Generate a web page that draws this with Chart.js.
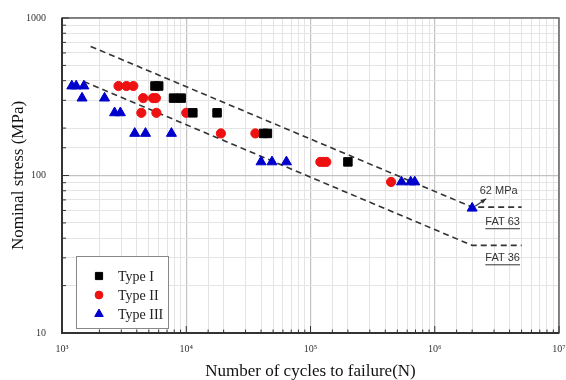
<!DOCTYPE html>
<html>
<head>
<meta charset="utf-8">
<script src="https://cdn.jsdelivr.net/npm/chart.js@4.4.1/dist/chart.umd.min.js"></script>
<style>
  body { margin: 0; background: #fff; }
  canvas { display: block; }
</style>
</head>
<body>
<canvas id="sn-chart" width="566" height="380"></canvas>
<script>
// Test data: [cycles to failure, nominal stress MPa]
const typeI = [
  [5600, 370], [6000, 370], [7900, 310], [9100, 310],
  [11300, 250], [17700, 250], [42000, 185], [45000, 185], [200000, 122],
];
const typeII = [
  [2850, 370], [3300, 370], [3750, 370],
  [4500, 310], [5400, 310], [5700, 310],
  [4350, 250], [5750, 250], [10000, 250],
  [19000, 185], [36000, 185],
  [120000, 122], [127000, 122], [134000, 122],
  [445000, 91],
];
const typeIII = [
  [1200, 370], [1300, 370], [1500, 370],
  [1450, 310], [2200, 310],
  [2650, 250], [2950, 250],
  [3850, 185], [4700, 185], [7600, 185],
  [40000, 122], [49000, 122], [64000, 122],
  [540000, 91], [640000, 91], [690000, 91],
  [2000000, 62],
];

// Design curves (FAT classes), knee at 2e6 cycles
const fat63Curve = [[1700, 660], [2000000, 63], [5000000, 63]];
const fat36Curve = [[1500, 395], [2000000, 36], [5000000, 36]];

const xTickValues = [1e3, 1e4, 1e5, 1e6, 1e7];
const xTickLabels = ["10³", "10⁴", "10⁵", "10⁶", "10⁷"];
const yTickValues = [10, 100, 1000];
const yTickLabels = ["10", "100", "1000"];

// Text notes: [label, cycles, stress, underlined]
const notes = [
  ["62 MPa", 3270000, 80, false],
  ["FAT 63", 3520000, 50.5, true],
  ["FAT 36", 3520000, 29.8, true],
];
const arrowFrom = [2000000, 62];

// Helpers
function toPoints(pairs) {
  return pairs.map(([x, y]) => ({ x, y }));
}

function isDecade(value) {
  const l = Math.log10(value);
  return Math.abs(l - Math.round(l)) < 1e-9;
}

const serif = "'Liberation Serif', 'Times New Roman', serif";
const sans = "'Liberation Sans', Arial, sans-serif";

// Plugins
const frameAndTicks = {
  id: "frameAndTicks",
  afterDatasetsDraw(chart) {
    const { ctx, chartArea: a, scales } = chart;
    ctx.save();
    ctx.strokeStyle = "#666";
    ctx.lineWidth = 1.5;
    ctx.strokeRect(a.left, a.top, a.right - a.left, a.bottom - a.top);

    ctx.strokeStyle = "#333";
    ctx.lineWidth = 2;
    ctx.beginPath();
    ctx.moveTo(a.left, a.top);
    ctx.lineTo(a.left, a.bottom);
    ctx.lineTo(a.right, a.bottom);
    ctx.stroke();

    // inward tick marks
    ctx.lineWidth = 1;
    ctx.beginPath();
    for (const tick of scales.x.ticks) {
      const px = scales.x.getPixelForValue(tick.value);
      const len = isDecade(tick.value) ? 7 : 3.5;
      ctx.moveTo(px, a.bottom);
      ctx.lineTo(px, a.bottom - len);
    }
    for (const tick of scales.y.ticks) {
      const py = scales.y.getPixelForValue(tick.value);
      const len = isDecade(tick.value) ? 7 : 4;
      ctx.moveTo(a.left, py);
      ctx.lineTo(a.left + len, py);
    }
    ctx.stroke();
    ctx.restore();
  },
};

const notesPlugin = {
  id: "notes",
  afterDatasetsDraw(chart) {
    const { ctx, scales } = chart;
    ctx.save();
    ctx.font = "11px " + sans;
    ctx.fillStyle = "#333";
    ctx.strokeStyle = "#333";
    ctx.textAlign = "center";
    ctx.textBaseline = "middle";
    for (const [text, nx, ny, underline] of notes) {
      const px = scales.x.getPixelForValue(nx);
      const py = scales.y.getPixelForValue(ny);
      ctx.fillText(text, px, py);
      if (underline) {
        const w = ctx.measureText(text).width;
        ctx.lineWidth = 1;
        ctx.beginPath();
        ctx.moveTo(px - w / 2, py + 6.5);
        ctx.lineTo(px + w / 2, py + 6.5);
        ctx.stroke();
      }
    }

    // arrow pointing at the run-out specimen
    const ax = scales.x.getPixelForValue(arrowFrom[0]);
    const ay = scales.y.getPixelForValue(arrowFrom[1]);
    const x1 = ax + 3, y1 = ay - 2;
    const x2 = ax + 14, y2 = ay - 9.5;
    const ang = Math.atan2(y2 - y1, x2 - x1);
    ctx.lineWidth = 1.2;
    ctx.beginPath();
    ctx.moveTo(x1, y1);
    ctx.lineTo(x2, y2);
    ctx.stroke();
    ctx.beginPath();
    ctx.moveTo(x2, y2);
    ctx.lineTo(x2 - 6 * Math.cos(ang - 0.4), y2 - 6 * Math.sin(ang - 0.4));
    ctx.lineTo(x2 - 6 * Math.cos(ang + 0.4), y2 - 6 * Math.sin(ang + 0.4));
    ctx.closePath();
    ctx.fill();
    ctx.restore();
  },
};

const boxedLegend = {
  id: "boxedLegend",
  afterDraw(chart) {
    const { ctx } = chart;
    const entries = chart.data.datasets.filter((d) => !d.showLine);
    const left = 76, top = 256, width = 92, height = 72;
    ctx.save();
    ctx.fillStyle = "#fff";
    ctx.fillRect(left, top, width, height);
    ctx.strokeStyle = "#888";
    ctx.lineWidth = 1;
    ctx.strokeRect(left + 0.5, top + 0.5, width, height);

    ctx.font = "14px " + serif;
    ctx.textBaseline = "middle";
    ctx.textAlign = "left";
    entries.forEach((d, i) => {
      const y = top + 20 + i * 19;
      ctx.fillStyle = d.backgroundColor;
      ctx.strokeStyle = d.borderColor;
      Chart.helpers.drawPoint(ctx, {
        pointStyle: d.pointStyle,
        radius: d.pointRadius * 0.85,
        rotation: 0,
        borderWidth: 1,
      }, left + 23, y);
      ctx.fillStyle = "#222";
      ctx.fillText(d.label, left + 42, y + 1);
    });
    ctx.restore();
  },
};

// Chart
const markerSet = (label, pairs, style, color, radius) => ({
  label,
  data: toPoints(pairs),
  pointStyle: style,
  pointRadius: radius,
  pointHoverRadius: radius,
  backgroundColor: color,
  borderColor: color,
  borderWidth: 1,
  showLine: false,
  order: 1,
});

const curveSet = (label, pairs) => ({
  label,
  data: toPoints(pairs),
  showLine: true,
  borderColor: "#333",
  borderWidth: 1.6,
  borderDash: [6, 4],
  pointRadius: 0,
  fill: false,
  order: 5,
});

new Chart(document.getElementById("sn-chart"), {
  type: "scatter",
  data: {
    datasets: [
      markerSet("Type I", typeI, "rect", "#000000", 6),
      markerSet("Type II", typeII, "circle", "#ee1111", 4.6),
      markerSet("Type III", typeIII, "triangle", "#0000cc", 5.8),
      curveSet("FAT 63", fat63Curve),
      curveSet("FAT 36", fat36Curve),
    ],
  },
  options: {
    responsive: false,
    animation: false,
    layout: { padding: { top: 18, right: 4, left: 0, bottom: 0 } },
    plugins: {
      legend: { display: false },
      tooltip: { enabled: false },
    },
    scales: {
      x: {
        type: "logarithmic",
        min: 1e3,
        max: 1e7,
        afterFit(scale) {
          scale.height = 47;
          scale.paddingLeft = 0;
          scale.paddingRight = 0;
        },
        border: { display: false },
        grid: {
          drawTicks: false,
          color: (c) => (isDecade(c.tick.value) ? "#c2c2c2" : "#e4e4e4"),
          lineWidth: (c) => (isDecade(c.tick.value) ? 1.2 : 1),
        },
        ticks: {
          autoSkip: false,
          maxRotation: 0,
          padding: 10,
          color: "#333",
          font: { family: serif, size: 10 },
          callback: (value) => {
            const i = xTickValues.findIndex((v) => Math.abs(v - value) < 1e-6 * v);
            return i >= 0 ? xTickLabels[i] : "";
          },
        },
        title: {
          display: true,
          text: "Number of cycles to failure(N)",
          color: "#111",
          font: { family: serif, size: 17, lineHeight: 1 },
          padding: { top: 0, bottom: 0 },
        },
      },
      y: {
        type: "logarithmic",
        min: 10,
        max: 1000,
        afterFit(scale) {
          scale.width = 62;
          scale.paddingTop = 0;
          scale.paddingBottom = 0;
        },
        border: { display: false },
        grid: {
          drawTicks: false,
          color: (c) => (isDecade(c.tick.value) ? "#c2c2c2" : "#e4e4e4"),
          lineWidth: (c) => (isDecade(c.tick.value) ? 1.2 : 1),
        },
        ticks: {
          autoSkip: false,
          padding: 16,
          color: "#333",
          font: { family: serif, size: 10 },
          callback: (value) => {
            const i = yTickValues.findIndex((v) => Math.abs(v - value) < 1e-6 * v);
            return i >= 0 ? yTickLabels[i] : "";
          },
        },
        title: {
          display: true,
          text: "Nominal stress (MPa)",
          color: "#111",
          font: { family: serif, size: 17, lineHeight: 1.2 },
          padding: { top: 8, bottom: 0 },
        },
      },
    },
  },
  plugins: [frameAndTicks, notesPlugin, boxedLegend],
});
</script>
</body>
</html>
